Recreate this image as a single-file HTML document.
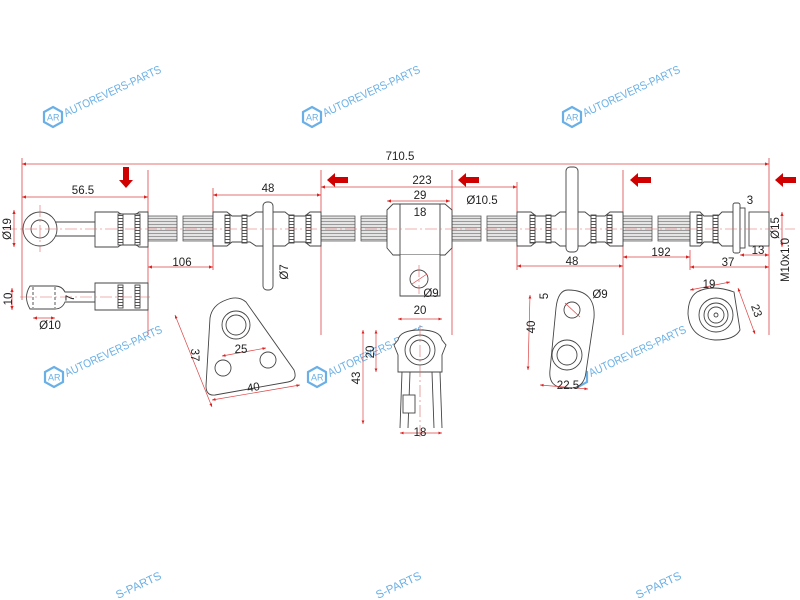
<!DOCTYPE html>
<html><head><meta charset="utf-8"><style>
html,body{margin:0;padding:0;background:#fff;width:800px;height:600px;overflow:hidden;}
svg{display:block;font-family:"Liberation Sans",sans-serif;}
</style></head><body>
<svg width="800" height="600" viewBox="0 0 800 600" xmlns="http://www.w3.org/2000/svg">
<defs>
<marker id="a" viewBox="0 0 10 10" refX="10" refY="5" markerWidth="7" markerHeight="5" orient="auto-start-reverse"><path d="M0,1 L10,5 L0,9 z" fill="#d22"/></marker>
<pattern id="rib" width="4" height="3" patternUnits="userSpaceOnUse"><rect width="4" height="3" fill="#fff"/><rect y="2" width="4" height="1" fill="#555"/></pattern>
<pattern id="tube" width="6" height="3" patternUnits="userSpaceOnUse"><rect width="6" height="3" fill="#e4e4e4"/><rect y="2" width="6" height="1" fill="#9a9a9a"/></pattern>
<g id="wm">
<path d="M0,-10 L9,-5 L9,5 L0,10 L-9,5 L-9,-5 z" fill="none" stroke="#6ab0e6" stroke-width="2.2"/>
<text x="-6" y="3.5" font-size="9" fill="#6ab0e6">AR</text>
<text x="13" y="0" font-size="11.5" fill="#6ab0e6" textLength="106" lengthAdjust="spacingAndGlyphs" transform="rotate(-25 13 0)">AUTOREVERS-PARTS</text>
</g>
</defs>

<use href="#wm" x="53" y="117"/>
<use href="#wm" x="312" y="117"/>
<use href="#wm" x="572" y="117"/>
<use href="#wm" x="54" y="377"/>
<use href="#wm" x="317" y="377"/>
<use href="#wm" x="578" y="377"/>
<g fill="#6ab0e6" font-size="11.5">
<text x="118" y="599" transform="rotate(-25 118 599)">S-PARTS</text>
<text x="378" y="599" transform="rotate(-25 378 599)">S-PARTS</text>
<text x="638" y="599" transform="rotate(-25 638 599)">S-PARTS</text>
</g>

<g stroke="#d44" stroke-width="0.8" fill="none">
<line x1="22" y1="158" x2="22" y2="300"/>
<line x1="148" y1="170" x2="148" y2="335"/>
<line x1="321" y1="170" x2="321" y2="335"/>
<line x1="452" y1="170" x2="452" y2="335"/>
<line x1="623" y1="170" x2="623" y2="335"/>
<line x1="769" y1="158" x2="769" y2="335"/>
<line x1="213" y1="188" x2="213" y2="270"/>
<line x1="517" y1="182" x2="517" y2="270"/>
<line x1="690" y1="250" x2="690" y2="270"/>
</g>
<g stroke="#d44" stroke-width="0.8" fill="none" marker-start="url(#a)" marker-end="url(#a)">
<line x1="22" y1="164" x2="769" y2="164"/>
<line x1="22" y1="197" x2="148" y2="197"/>
<line x1="213" y1="195" x2="321" y2="195"/>
<line x1="321" y1="187" x2="517" y2="187"/>
<line x1="387" y1="201" x2="450" y2="201"/>
<line x1="400" y1="218" x2="440" y2="218"/>
<line x1="148" y1="267" x2="213" y2="267"/>
<line x1="517" y1="266" x2="623" y2="266"/>
<line x1="623" y1="257" x2="690" y2="257"/>
<line x1="690" y1="267" x2="769" y2="267"/>
<line x1="740" y1="255" x2="769" y2="255"/>
<line x1="14" y1="210" x2="14" y2="247"/>
<line x1="782" y1="212" x2="782" y2="247"/>
<line x1="12" y1="288" x2="12" y2="310"/>
<line x1="33" y1="318" x2="55" y2="318"/>
</g>

<g fill="#d10000">
<path d="M123,167 h6 v13 h4 l-7,8 l-7,-8 h4 z"/>
<path d="M348,177 v6 h-13 v4 l-8,-7 l8,-7 v4 z"/>
<path d="M479,177 v6 h-13 v4 l-8,-7 l8,-7 v4 z"/>
<path d="M651,177 v6 h-13 v4 l-8,-7 l8,-7 v4 z"/>
<path d="M796,177 v6 h-13 v4 l-8,-7 l8,-7 v4 z"/>
</g>

<g fill="url(#tube)" stroke="#555" stroke-width="0.8">
<path d="M148,216 H177 V241 H148 z"/>
<path d="M183,216 H213 V241 H183 z"/>
<path d="M321,216 H355 V241 H321 z"/>
<path d="M361,216 H387 V241 H361 z"/>
<path d="M452,216 H481 V241 H452 z"/>
<path d="M487,216 H517 V241 H487 z"/>
<path d="M623,216 H652 V241 H623 z"/>
<path d="M658,216 H690 V241 H658 z"/>
</g>

<g stroke="#444" stroke-width="0.9" fill="#fff">
<circle cx="40" cy="229" r="17"/>
<circle cx="40" cy="229" r="9"/>
<path d="M55,222 H95 M55,236 H95"/>
<path d="M95,212 H118 Q120,214 122,214 H135 Q137,214 139,212 H148 V247 H139 Q137,245 135,245 H122 Q120,245 118,247 H95 z"/>
<rect x="118" y="214" width="5" height="31" fill="url(#rib)"/>
<rect x="135" y="214" width="5" height="31" fill="url(#rib)"/>
<path d="M30,286 H55 Q62,286 65,292 H95 V302 H65 Q62,309 55,309 H30 Q23,297 30,286 z"/>
<path d="M33,287 V308 M55,287 V308" stroke-dasharray="3 2"/>
<path d="M95,283 H148 V310 H95 z"/>
<rect x="118" y="285" width="5" height="23" fill="url(#rib)"/>
<rect x="135" y="285" width="5" height="23" fill="url(#rib)"/>
<path d="M213,212 H227 L232,216 H250 L256,212 H285 L290,216 H305 L310,212 H321 V246 H310 L305,242 H290 L285,246 H256 L250,242 H232 L227,246 H213 z"/>
<rect x="225" y="215" width="5" height="28" fill="url(#rib)"/>
<rect x="242" y="215" width="5" height="28" fill="url(#rib)"/>
<rect x="289" y="215" width="5" height="28" fill="url(#rib)"/>
<rect x="306" y="215" width="5" height="28" fill="url(#rib)"/>
<rect x="263" y="202" width="10" height="88" rx="4"/>
<path d="M387,210 L393,204 H445 L452,210 V248 L445,255 H393 L387,248 z"/>
<path d="M400,204 V255 M440,204 V255"/>
<path d="M400,255 V296 H440 V255"/>
<circle cx="419" cy="279" r="9"/>
<path d="M517,212 H531 L536,216 H555 L560,212 H585 L590,216 H605 L610,212 H623 V246 H610 L605,242 H590 L585,246 H560 L555,242 H536 L531,246 H517 z"/>
<rect x="530" y="215" width="5" height="28" fill="url(#rib)"/>
<rect x="546" y="215" width="5" height="28" fill="url(#rib)"/>
<rect x="591" y="215" width="5" height="28" fill="url(#rib)"/>
<rect x="607" y="215" width="5" height="28" fill="url(#rib)"/>
<rect x="566" y="167" width="12" height="85" rx="4"/>
<path d="M690,212 H700 L704,216 H718 L722,212 H733 V246 H722 L718,242 H704 L700,246 H690 z"/>
<rect x="697" y="215" width="5" height="28" fill="url(#rib)"/>
<rect x="713" y="215" width="5" height="28" fill="url(#rib)"/>
<rect x="733" y="203" width="7" height="50" rx="2"/>
<rect x="740" y="208" width="5" height="40"/>
<rect x="749" y="212" width="20" height="34"/>
<path d="M226,300 Q238,295 246,302 L294,370 Q298,380 288,382 L215,395 Q206,396 206,386 L210,318 Q212,305 226,300 z"/>
<circle cx="236" cy="325" r="14"/>
<circle cx="236" cy="325" r="10"/>
<circle cx="223" cy="368" r="8"/>
<circle cx="268" cy="360" r="8"/>
<path d="M398,340 Q400,330 420,330 Q440,330 442,340 L446,345 L442,355 V372 H398 V355 L394,345 z"/>
<circle cx="420" cy="350" r="15"/>
<circle cx="420" cy="350" r="10"/>
<path d="M402,372 L400,428 M410,372 L408,428 M432,372 L434,428 M440,372 L442,428"/>
<rect x="403" y="395" width="12" height="18"/>
<path d="M568,290 Q596,290 594,318 L586,372 Q584,390 566,388 Q548,388 550,370 L556,308 Q558,290 568,290 z"/>
<circle cx="572" cy="310" r="8"/>
<circle cx="567" cy="355" r="15"/>
<circle cx="567" cy="355" r="10"/>
<path d="M697,292 Q712,284 734,292 L740,330 Q735,340 715,340 Q690,338 688,314 Q688,298 697,292 z"/>
<circle cx="716" cy="315" r="17"/>
<circle cx="716" cy="315" r="12"/>
<circle cx="716" cy="315" r="8"/>
<circle cx="716" cy="315" r="2"/>
</g>
<g stroke="#d66" stroke-width="0.6" stroke-dasharray="12 3 2 3" fill="none">
<line x1="5" y1="229" x2="795" y2="229"/>
<line x1="20" y1="297" x2="150" y2="297"/>
<line x1="40" y1="205" x2="40" y2="252"/>
<line x1="419" y1="265" x2="419" y2="294"/>
<line x1="420" y1="325" x2="420" y2="440"/>
</g>
<g stroke="#d44" stroke-width="0.7" fill="none">
<line x1="175" y1="315" x2="212" y2="407" marker-start="url(#a)" marker-end="url(#a)"/>
<line x1="212" y1="400" x2="300" y2="385" marker-start="url(#a)" marker-end="url(#a)"/>
<line x1="222" y1="356" x2="266" y2="348" marker-start="url(#a)" marker-end="url(#a)"/>
<line x1="398" y1="319" x2="442" y2="319" marker-start="url(#a)" marker-end="url(#a)"/>
<line x1="400" y1="433" x2="442" y2="433" marker-start="url(#a)" marker-end="url(#a)"/>
<line x1="363" y1="330" x2="363" y2="424" marker-start="url(#a)" marker-end="url(#a)"/>
<line x1="376" y1="330" x2="376" y2="372" marker-start="url(#a)" marker-end="url(#a)"/>
<line x1="530" y1="295" x2="528" y2="370" marker-start="url(#a)" marker-end="url(#a)"/>
<line x1="540" y1="385" x2="588" y2="389" marker-start="url(#a)" marker-end="url(#a)"/>
<line x1="690" y1="290" x2="730" y2="282" marker-start="url(#a)" marker-end="url(#a)"/>
<line x1="738" y1="288" x2="755" y2="334" marker-start="url(#a)" marker-end="url(#a)"/>
<line x1="565" y1="303" x2="580" y2="317"/>
<line x1="412" y1="284" x2="427" y2="274"/>
</g>

<g fill="#222" font-size="11.5" text-anchor="middle">
<text x="400" y="160">710.5</text>
<text x="83" y="194">56.5</text>
<text x="268" y="192">48</text>
<text x="422" y="184">223</text>
<text x="420" y="199">29</text>
<text x="420" y="216">18</text>
<text x="482" y="204">Ø10.5</text>
<text x="182" y="266">106</text>
<text x="572" y="265">48</text>
<text x="661" y="256">192</text>
<text x="728" y="266">37</text>
<text x="758" y="254">13</text>
<text x="750" y="204">3</text>
<text x="431" y="297">Ø9</text>
<text x="600" y="298">Ø9</text>
<text x="50" y="329">Ø10</text>
<text x="420" y="314">20</text>
<text x="420" y="436">18</text>
<text x="241" y="353">25</text>
<text x="254" y="391" transform="rotate(-10 254 391)">40</text>
<text x="568" y="389">22.5</text>
<text x="709" y="288">19</text>
<text transform="translate(11 229) rotate(-90)">Ø19</text>
<text transform="translate(12 299) rotate(-90)">10</text>
<text transform="translate(74 298) rotate(-90)">7</text>
<text transform="translate(288 272) rotate(-90)">Ø7</text>
<text transform="translate(779 228) rotate(-90)">Ø15</text>
<text transform="translate(789 260) rotate(-90)">M10x1.0</text>
<text transform="translate(360 378) rotate(-90)">43</text>
<text transform="translate(374 352) rotate(-90)">20</text>
<text transform="translate(535 327) rotate(-90)">40</text>
<text transform="translate(548 296) rotate(-90)">5</text>
<text transform="translate(191 355) rotate(90)">37</text>
<text transform="translate(753 312) rotate(70)">23</text>
</g>
</svg>
</body></html>
